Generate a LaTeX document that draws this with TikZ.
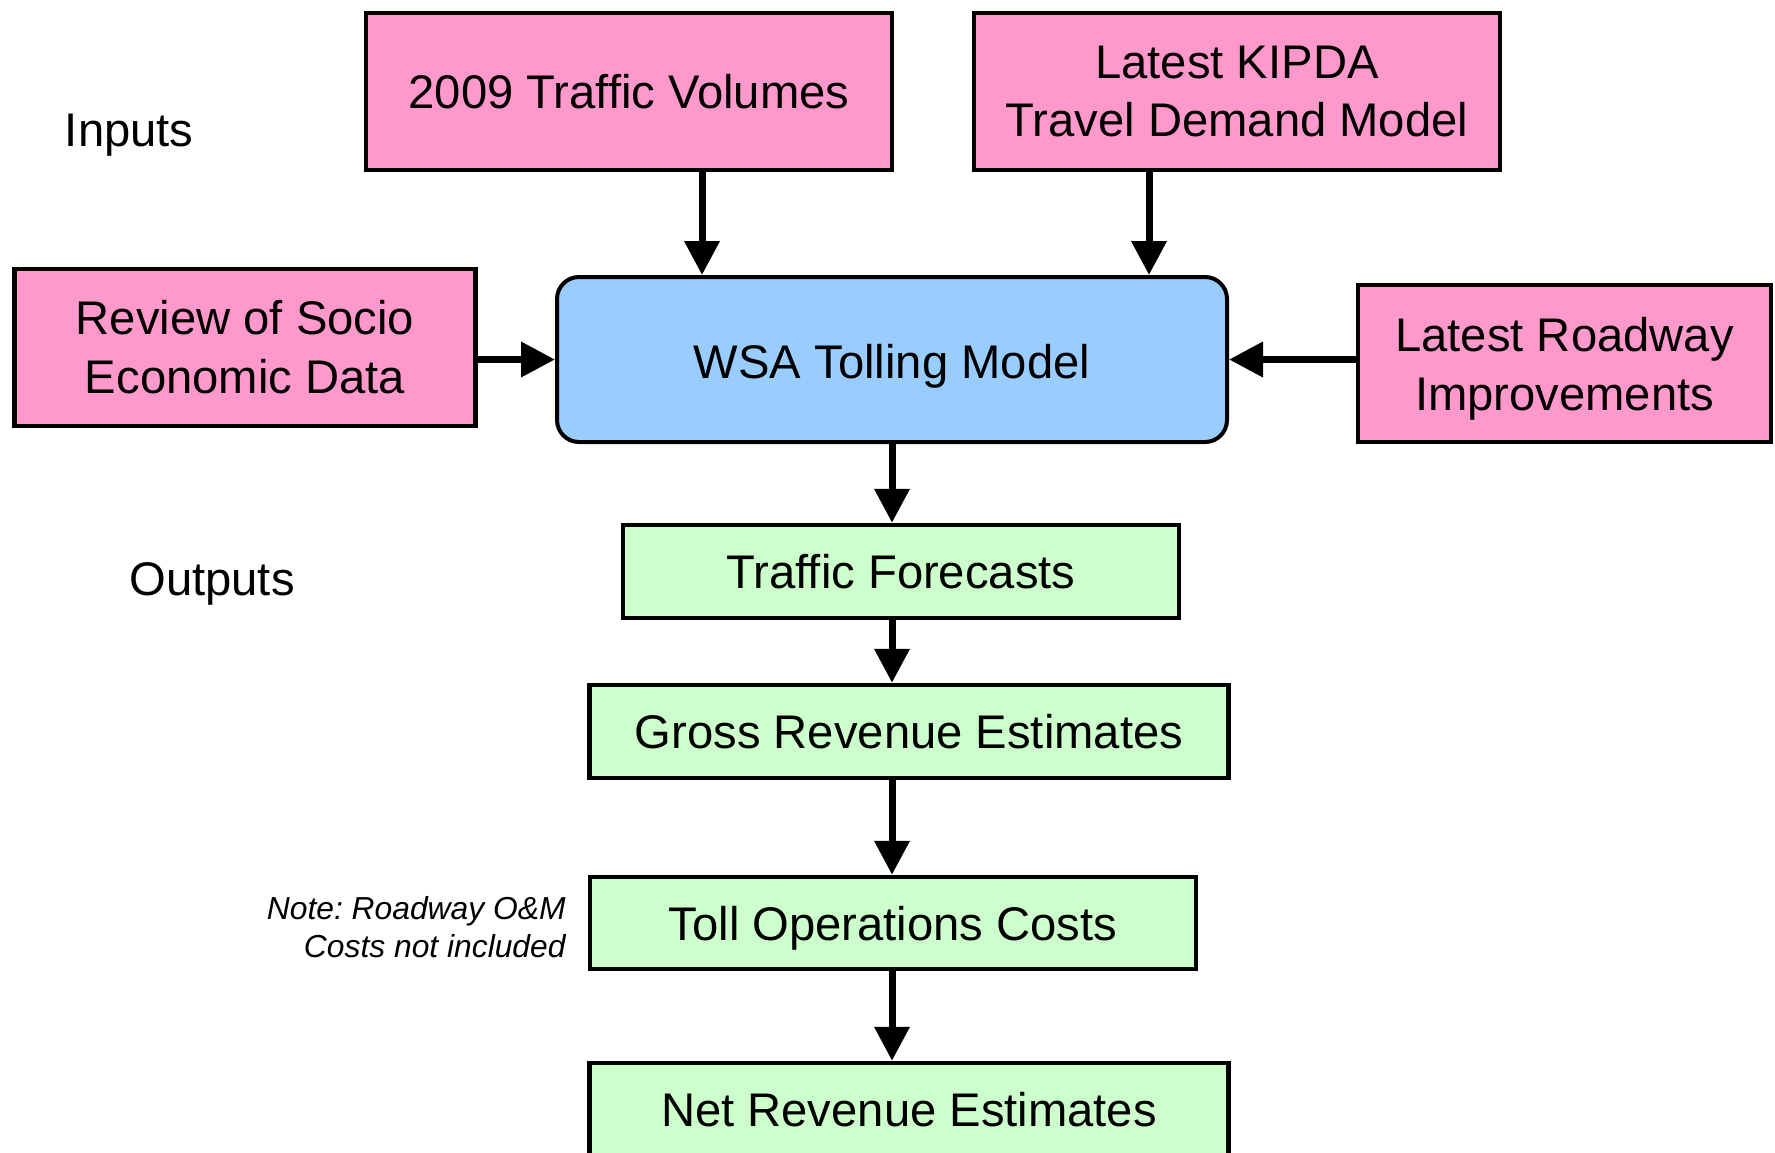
\documentclass[tikz,border=0pt]{standalone}
\usepackage{fontspec}
\setmainfont{Liberation Sans}
\frenchspacing
\usetikzlibrary{arrows.meta}

\definecolor{inpink}{HTML}{FF99CC}
\definecolor{modelblue}{HTML}{99CCFF}
\definecolor{outgreen}{HTML}{CCFFCC}

\begin{document}
\begin{tikzpicture}[x=0.5pt,y=-0.5pt,->,>={Triangle[length=17pt,width=17pt]},
                    font=\fontsize{23.6}{29.4}\selectfont]
  \tikzstyle{every node}=[align=center,inner sep=0pt]
  \tikzstyle{inbox}=[draw,line width=2.25pt,fill=inpink,minimum height=78.5pt]
  \tikzstyle{modelbox}=[draw,line width=2pt,fill=modelblue,rounded corners=11pt]
  \tikzstyle{outbox}=[draw,line width=2.25pt,fill=outgreen,minimum height=46.5pt]
  \tikzstyle{flow}=[line width=3.5pt]

  \useasboundingbox (0,0) rectangle (1775,1152);

  \node[anchor=west] (inlabel)  at (64.5,135)  {Inputs};
  \node[anchor=west] (outlabel) at (129,583.5) {Outputs};

  \node[inbox,minimum width=263pt]   (vol)   at (629,91.5)    {2009 Traffic Volumes};
  \node[inbox,minimum width=263pt]   (kipda) at (1237,91.5)   {Latest KIPDA\\Travel Demand Model};
  \node[inbox,minimum width=230.5pt] (socio) at (245,347.5)   {Review of Socio\\Economic Data};
  \node[modelbox,minimum width=335pt,minimum height=82.5pt,text height=24pt]
                                     (wsa)   at (892,359.5)   {WSA Tolling Model};
  \node[inbox,minimum width=206.5pt,text depth=0pt]
                                     (road)  at (1564.5,363.5) {Latest Roadway\\Improvements};

  \node[outbox,minimum width=278pt]   (fore)  at (901,571.5)  {Traffic Forecasts};
  \node[outbox,minimum width=319.5pt] (gross) at (909,731.5)  {Gross Revenue Estimates};
  \node[outbox,minimum width=303pt,minimum height=46pt,text height=22.8pt]
                                      (toll)  at (893,923)    {Toll Operations Costs};
  \node[outbox,minimum width=319.5pt] (net)   at (909,1109.5) {Net Revenue Estimates};

  \node[anchor=east,align=right,font=\fontsize{15.9}{19.2}\selectfont\itshape]
        (note) at (566,927) {Note: Roadway O\&M\\Costs not included};

  \path[flow] ([xshift=36.5pt]vol.south)  edge ([xshift=36.5pt]vol.south |- wsa.north)
              ([xshift=-44pt]kipda.south) edge ([xshift=-44pt]kipda.south |- wsa.north)
              (socio.east |- wsa.west)    edge (wsa.west)
              (road.west |- wsa.east)     edge (wsa.east)
              (wsa.south)                 edge (wsa.south |- fore.north)
              (fore.south -| wsa.south)   edge (gross.north -| wsa.south)
              (gross.south -| wsa.south)  edge (toll.north -| wsa.south)
              (toll.south -| wsa.south)   edge (net.north -| wsa.south);
\end{tikzpicture}
\end{document}
